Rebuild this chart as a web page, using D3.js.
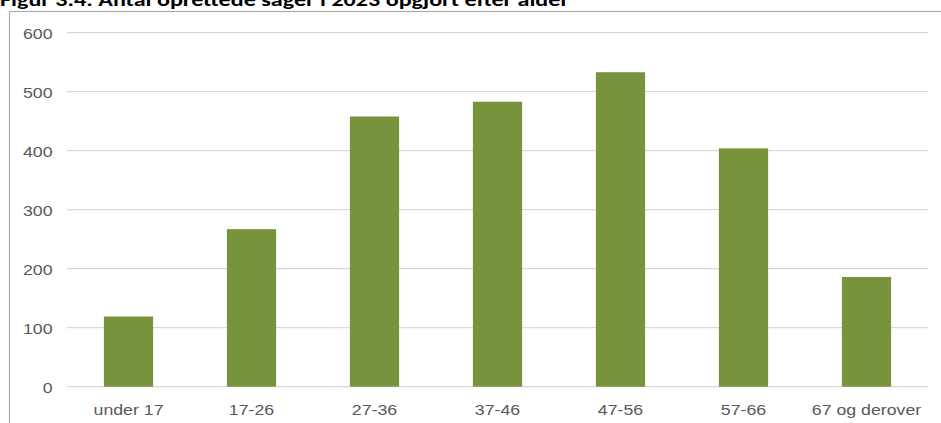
<!DOCTYPE html>
<html>
<head>
<meta charset="utf-8">
<script src="https://cdn.jsdelivr.net/npm/d3@7"></script>
<style>
  body { margin: 0; background: #fff; }
  svg { display: block; }
</style>
</head>
<body>
<svg id="chart" width="941" height="423"></svg>
<script>
const categories = ["under 17", "17-26", "27-36", "37-46", "47-56", "57-66", "67 og derover"];
const values = [119, 267, 458, 483, 533, 404, 186];
const yTicks = [0, 100, 200, 300, 400, 500, 600];
const title = "Figur 3.4: Antal oprettede sager i 2023 opgjort efter alder";

const svg = d3.select("#chart");
const width = 941;
const height = 423;

// outer frame of the chart area (runs past right and bottom edges)
svg.append("rect")
  .attr("x", 9.5)
  .attr("y", 11.5)
  .attr("width", 1000)
  .attr("height", 1000)
  .attr("fill", "none")
  .attr("stroke", "#ababab")
  .attr("stroke-width", 1.2);

svg.append("text")
  .attr("x", 0)
  .attr("y", 5.5)
  .attr("font-family", "Calibri, Carlito, Lato, sans-serif")
  .attr("font-weight", "bold")
  .attr("font-size", "18px")
  .attr("fill", "#000")
  .attr("textLength", 569)
  .attr("lengthAdjust", "spacingAndGlyphs")
  .text(title);

const x = d3.scaleBand()
  .domain(categories)
  .range([67, 928])
  .paddingInner(0.6)
  .paddingOuter(0.3);

const y = d3.scaleLinear()
  .domain([0, 600])
  .range([386.7, 32.7]);

// gridlines
svg.append("g")
  .selectAll("line")
  .data(yTicks)
  .join("line")
  .attr("x1", 67)
  .attr("x2", 928)
  .attr("y1", d => y(d))
  .attr("y2", d => y(d))
  .attr("stroke", "#d9d9d9")
  .attr("stroke-width", 1.3);

// y tick labels
svg.append("g")
  .selectAll("text")
  .data(yTicks)
  .join("text")
  .attr("transform", d => `translate(52.5,${y(d) + 6.3}) scale(1.16,1)`)
  .attr("text-anchor", "end")
  .attr("font-family", "Arial, 'Liberation Sans', sans-serif")
  .attr("font-size", "15.3px")
  .attr("fill", "#595959")
  .text(d => d);

// bars
svg.append("g")
  .selectAll("rect")
  .data(values)
  .join("rect")
  .attr("x", (d, i) => x(categories[i]))
  .attr("y", d => y(d))
  .attr("width", x.bandwidth())
  .attr("height", d => y(0) - y(d))
  .attr("fill", "#77933c");

// x labels
svg.append("g")
  .selectAll("text")
  .data(categories)
  .join("text")
  .attr("transform", d => `translate(${x(d) + x.bandwidth() / 2},414.5) scale(1.16,1)`)
  .attr("text-anchor", "middle")
  .attr("font-family", "Arial, 'Liberation Sans', sans-serif")
  .attr("font-size", "15.3px")
  .attr("fill", "#595959")
  .text(d => d);
</script>
</body>
</html>
